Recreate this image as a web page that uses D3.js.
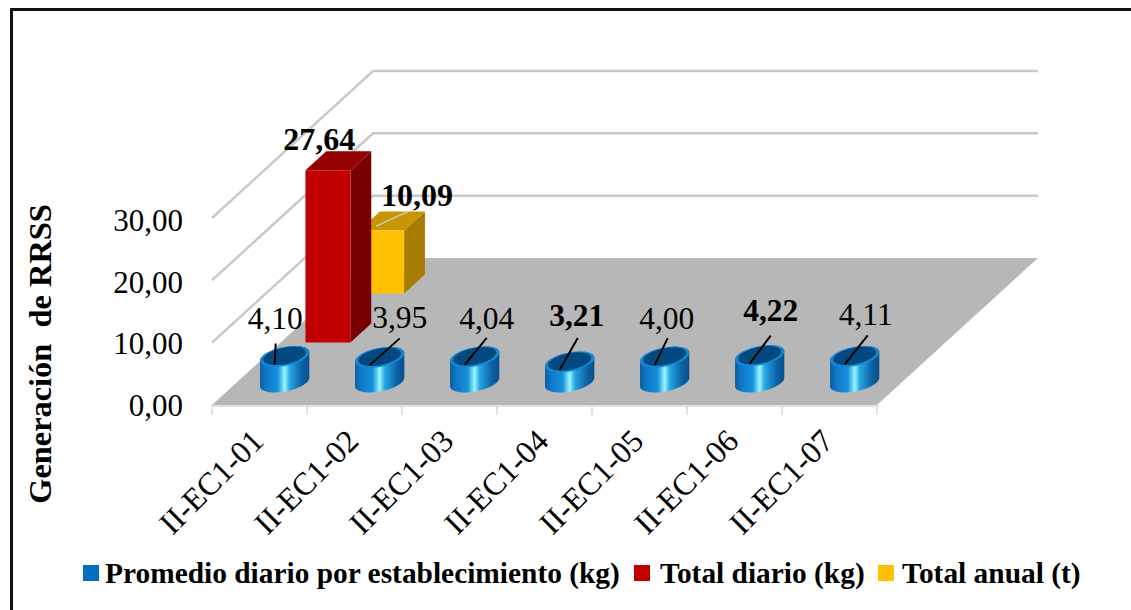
<!DOCTYPE html>
<html><head><meta charset="utf-8">
<script src="https://cdn.jsdelivr.net/npm/d3@7"></script>
<style>html,body{margin:0;padding:0;background:#fff}svg{display:block}text{font-family:"Liberation Serif",serif;fill:#000}</style>
</head><body><svg id="c" width="1131" height="610"></svg>
<script>
const categories=["II-EC1-01","II-EC1-02","II-EC1-03","II-EC1-04","II-EC1-05","II-EC1-06","II-EC1-07"];
const seriesNames=["Promedio diario por establecimiento (kg)","Total diario (kg)","Total anual (t)"];
const promedioDiario=[4.10,3.95,4.04,3.21,4.00,4.22,4.11];
const totalDiario=[27.64,null,null,null,null,null,null];
const totalAnual=[10.09,null,null,null,null,null,null];
const yTicks=[0,10,20,30];
const boldPromedio=[3,5];
// layout: label dx, dy, leader-top dx, dy relative to cylinder top centre
const labelLayout=[[-9.5,-27,-9,-13],[20,-29,20,-19],[12,-28,12,-19],[7,-36,8,-24],[2,-28,3,-19],[11,-35,11,-20],[11,-31,13,-21]];
const legendLayout=[[83,105],[634,660],[878,902]];
const colors=["#0070c0","#c00000","#ffc000"];
const svg=d3.select("#c");
const fmt=v=>d3.format(".2f")(v).replace(".",",");
const X0=212,X1=877,Y0=405,DX=161,DY=147,barW=45,depthW=21,depthH=19;
const x=d3.scaleBand(categories,[X0,X1]);
const y=d3.scaleLinear([0,30],[0,187]);
const dz=d3.scaleBand(seriesNames,[0,DY]);
const kx=DX/DY;
const gap=(dz.bandwidth()-depthH)/2-1.5;
const P=(px,h,d)=>[px+d*kx,Y0-y(h)-d];
const defs=svg.append("defs");
const g=defs.append("linearGradient").attr("id","cyl");
[[0,"#0a5c9e"],[.12,"#0f78c8"],[.36,"#1790dc"],[.5,"#9af7ff"],[.6,"#2aa6e4"],[.85,"#0b62a6"],[1,"#0a4f88"]].forEach(s=>g.append("stop").attr("offset",s[0]).attr("stop-color",s[1]));

svg.append("path").attr("d","M11.5,610V9.5H1131").attr("fill","none").attr("stroke","#111").attr("stroke-width",3);

const lineG=svg.append("g").attr("fill","none").attr("stroke","#c9c9c9").attr("stroke-width",2.5);
yTicks.slice(1).forEach(t=>{
  lineG.append("path").attr("d",d3.line()([P(X0,t,0),P(X0,t,DY),P(X1,t,DY)]));
});
svg.append("path").attr("d",d3.line()([P(X0,0,0),P(X1,0,0),P(X1,0,DY),P(X0,0,DY)])+"Z").attr("fill","#b7b7b7");
const tickG=svg.append("g").attr("stroke","#dbe1e8").attr("stroke-width",2).attr("fill","none");
tickG.append("path").attr("d",`M${X0},${Y0+1}H${X1}`);
[...categories.map(c=>x(c)),X1].forEach(v=>tickG.append("path").attr("d",`M${v},${Y0}v10`));

const yAxisScale=d3.scaleLinear([0,30],[Y0,Y0-184.5]);
const ax=svg.append("g").attr("transform","translate(183,0)").call(d3.axisLeft(yAxisScale).tickValues(yTicks).tickFormat(fmt).tickSize(0).tickPadding(0));
ax.select(".domain").remove();
ax.selectAll("text").attr("font-size",31).style("font-family",'"Liberation Serif",serif').attr("dy","0.33em");

svg.append("text").attr("transform","translate(51,354) rotate(-90)").attr("text-anchor","middle").attr("font-size",32.4).attr("font-weight","bold").style("white-space","pre").text("Generación  de RRSS");

categories.forEach(c=>{
  svg.append("text").attr("transform",`translate(${x(c)+x.bandwidth()/2-2},${Y0+30}) rotate(-45)`).attr("text-anchor","end").attr("dy","0.35em").attr("font-size",32).text(c);
});

function box(cat,val,si,color,top,side){
  const L=x(cat)+(x.bandwidth()-barW)/2, d=dz(si)+gap;
  const poly=(pts)=>d3.line()(pts)+"Z";
  const G=svg.append("g");
  G.append("path").attr("d",poly([P(L+barW,0,d),P(L+barW,0,d+depthH),P(L+barW,val,d+depthH),P(L+barW,val,d)])).attr("fill",side);
  G.append("path").attr("d",poly([P(L,val,d),P(L+barW,val,d),P(L+barW,val,d+depthH),P(L,val,d+depthH)])).attr("fill",top);
  G.append("path").attr("d",poly([P(L,0,d),P(L+barW,0,d),P(L+barW,val,d),P(L,val,d)])).attr("fill",color);
}
totalAnual.forEach((v,i)=>{if(v!=null)box(categories[i],v,seriesNames[2],colors[2],"#c79600","#a67d00");});
totalDiario.forEach((v,i)=>{if(v!=null)box(categories[i],v,seriesNames[1],colors[1],"#920000","#780000");});

const ell=(cx,cy,k)=>d3.range(0,72).map(i=>{const t=i/72*2*Math.PI;
  return [cx+k*(barW/2*Math.cos(t)+10*Math.sin(t)),cy-k*10.5*Math.sin(t)];});
promedioDiario.forEach((v,i)=>{
  const c=categories[i],L=x(c)+(x.bandwidth()-barW)/2,d=dz(seriesNames[0])+gap;
  const [cx,cyB]=P(L+barW/2,0,d+depthH/2);
  const cyT=cyB-y(v);
  const hull=d3.polygonHull([...ell(cx,cyB,1),...ell(cx,cyT,1)]);
  svg.append("path").attr("d",d3.line()(hull)+"Z").attr("fill","url(#cyl)");
  svg.append("path").attr("d",d3.line()(ell(cx,cyT,1))+"Z").attr("fill","#1685d2");
  svg.append("path").attr("d",d3.line()(ell(cx,cyT-.5,.87))+"Z").attr("fill","#03497f");
  const l=labelLayout[i];
  svg.append("path").attr("d",d3.line()([[cx+l[2],cyT+l[3]],[cx-10,cyT+8]])).attr("stroke","#000").attr("stroke-width",2).attr("fill","none");
  svg.append("text").attr("x",cx+l[0]).attr("y",cyT+l[1]).attr("text-anchor","middle").attr("font-size",31.5).attr("font-weight",boldPromedio.includes(i)?"bold":"normal").text(fmt(v));
});

{
 const L=x(categories[0])+(x.bandwidth()-barW)/2;
 const r=P(L+barW/2,totalDiario[0],dz(seriesNames[1])+gap+depthH/2);
 svg.append("text").attr("x",r[0]-19).attr("y",r[1]-11).attr("text-anchor","middle").attr("font-size",32).attr("font-weight","bold").text(fmt(totalDiario[0]));
 const a=P(L+barW/2,totalAnual[0],dz(seriesNames[2])+gap+depthH/2);
 svg.append("path").attr("d",d3.line()([[a[0]+17,a[1]-10],[a[0]-16,a[1]+5]])).attr("stroke","#c8ccd0").attr("stroke-width",1.5).attr("fill","none");
 svg.append("text").attr("x",a[0]+25).attr("y",a[1]-15).attr("text-anchor","middle").attr("font-size",32).attr("font-weight","bold").text(fmt(totalAnual[0]));
}

seriesNames.forEach((s,i)=>{
  svg.append("rect").attr("x",legendLayout[i][0]).attr("y",565).attr("width",16).attr("height",16).attr("fill",colors[i]);
  svg.append("text").attr("x",legendLayout[i][1]).attr("y",583).attr("font-size",29.4).attr("font-weight","bold").text(s);
});
</script></body></html>
